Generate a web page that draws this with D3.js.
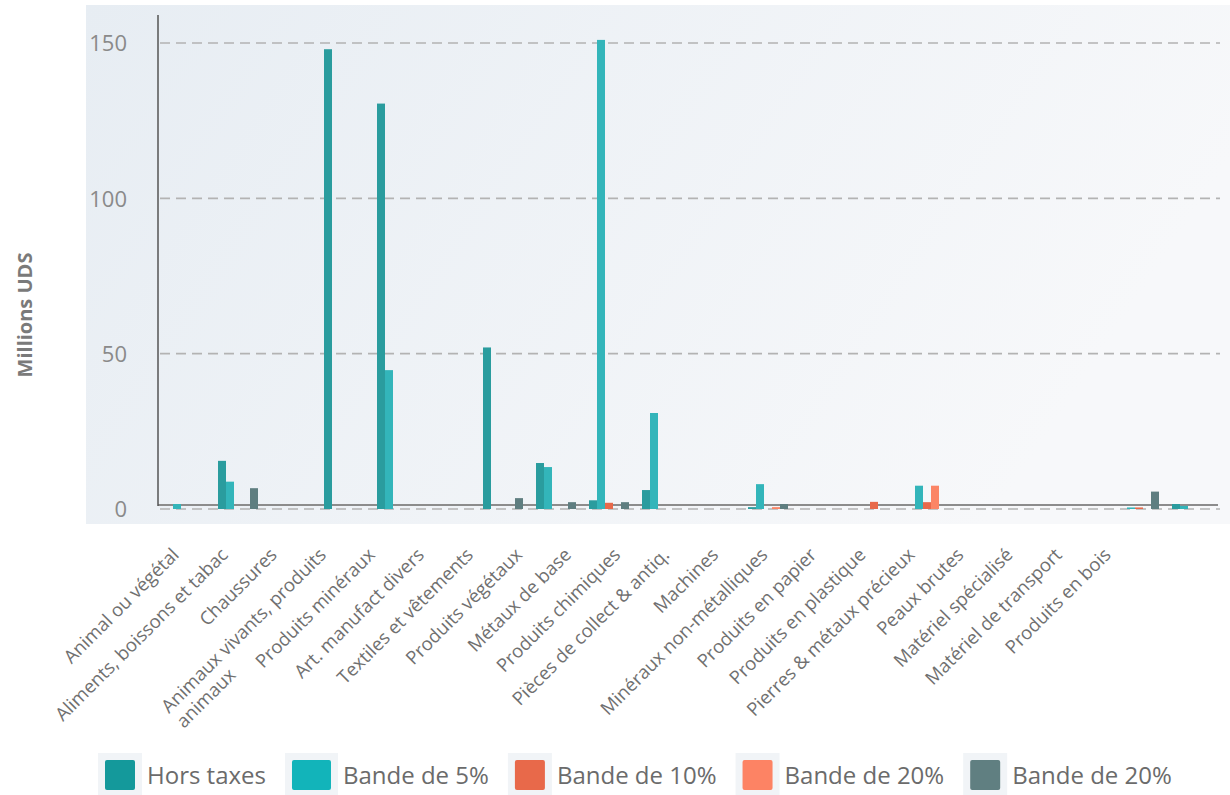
<!DOCTYPE html>
<html>
<head>
<meta charset="utf-8">
<script src="https://cdn.jsdelivr.net/npm/d3@7"></script>
<style>
  body { margin: 0; background: #fff; }
  svg { display: block; font-family: "Open Sans", sans-serif; }
</style>
</head>
<body>
<div id="chart"></div>
<script>
// categories and values (millions UDS)
var categories = [
    "Animal ou végétal",
    "Aliments, boissons et tabac",
    "Chaussures",
    "Animaux vivants, produits\nanimaux",
    "Produits minéraux",
    "Art. manufact divers",
    "Textiles et vêtements",
    "Produits végétaux",
    "Métaux de base",
    "Produits chimiques",
    "Pièces de collect & antiq.",
    "Machines",
    "Minéraux non-métalliques",
    "Produits en papier",
    "Produits en plastique",
    "Pierres & métaux précieux",
    "Peaux brutes",
    "Matériel spécialisé",
    "Matériel de transport",
    "Produits en bois"
];

var seriesNames = ["Hors taxes", "Bande de 5%", "Bande de 10%", "Bande de 20%", "Bande de 20%"];
var seriesColors = ["#2a9c9e", "#33b5ba", "#e8694a", "#fb8566", "#5f7e80"];
var legendColors = ["#14999b", "#12b4ba", "#e8694a", "#fd8364", "#607f81"];

var horsTaxes = [0, 15.5, 0, 148, 130.5, 0, 52, 14.8, 2.8, 6.1, 0, 0.6, 0, 0, 0, 0, 0, 0, 0, 1.6];
var bande5    = [1.6, 8.8, 0, 0, 44.7, 0, 0, 13.5, 151, 30.9, 0, 8.0, 0, 0, 7.5, 0, 0, 0, 0.5, 1.0];
var bande10   = [0, 0, 0, 0, 0, 0, 0, 0, 2.0, 0, 0, 0, 0, 2.3, 2.2, 0, 0, 0, 0.5, 0];
var bande20   = [0, 0, 0, 0, 0, 0, 0, 0, 0, 0, 0, 0.6, 0, 0, 7.5, 0, 0, 0, 0, 0];
var bande20b  = [0, 6.7, 0, 0, 0, 0, 3.5, 2.2, 2.2, 0, 0, 1.6, 0, 0, 0, 0, 0, 0, 5.6, 0];

var yTicks = [0, 50, 100, 150];

var allSeries = [horsTaxes, bande5, bande10, bande20, bande20b];

var width = 1230, height = 795;

var svg = d3.select("#chart").append("svg")
    .attr("width", width)
    .attr("height", height);

// plot background
var grad = svg.append("defs").append("linearGradient")
    .attr("id", "bg").attr("x1", "0").attr("x2", "1").attr("y1", "0").attr("y2", "0.3");
grad.append("stop").attr("offset", "0").attr("stop-color", "#e7edf3");
grad.append("stop").attr("offset", "1").attr("stop-color", "#f7f8fa");

svg.append("rect")
    .attr("x", 86).attr("y", 5)
    .attr("width", width - 86).attr("height", 519)
    .attr("fill", "url(#bg)");

var x0 = d3.scaleBand()
    .domain(d3.range(categories.length))
    .range([158.5, 1218.5]);

var x1 = d3.scaleBand()
    .domain(d3.range(seriesNames.length))
    .range([0, x0.bandwidth()])
    .paddingInner(0)
    .paddingOuter(0.8125);

var y = d3.scaleLinear()
    .domain([0, 150])
    .range([509, 43]);

// dashed grid lines
svg.append("g").selectAll("line")
    .data(yTicks)
    .enter().append("line")
    .attr("x1", 160).attr("x2", 1220)
    .attr("y1", function(d) { return y(d); })
    .attr("y2", function(d) { return y(d); })
    .attr("stroke", "#b3b3b3")
    .attr("stroke-width", 1.6)
    .attr("stroke-dasharray", "10,6");

// y tick labels
svg.append("g").selectAll("text")
    .data(yTicks)
    .enter().append("text")
    .attr("x", 127)
    .attr("y", function(d) { return y(d); })
    .attr("dy", "0.38em")
    .attr("text-anchor", "end")
    .attr("font-size", "22px")
    .attr("fill", "#8a8a8a")
    .text(function(d) { return d; });

// axis lines
svg.append("line")
    .attr("x1", 158).attr("x2", 1218)
    .attr("y1", 505).attr("y2", 505)
    .attr("stroke", "#8c8c8c").attr("stroke-width", 2);

svg.append("line")
    .attr("x1", 158).attr("x2", 158)
    .attr("y1", 15).attr("y2", 506)
    .attr("stroke", "#555").attr("stroke-width", 1.5);

// bars
var groups = svg.append("g").selectAll("g")
    .data(categories)
    .enter().append("g")
    .attr("transform", function(d, i) { return "translate(" + x0(i) + ",0)"; });

groups.selectAll("rect")
    .data(function(d, i) {
        return allSeries.map(function(s, k) { return {k: k, v: s[i]}; })
            .filter(function(e) { return e.v > 0; });
    })
    .enter().append("rect")
    .attr("x", function(d) { return x1(d.k); })
    .attr("width", x1.bandwidth())
    .attr("y", function(d) { return y(d.v); })
    .attr("height", function(d) { return y(0) - y(d.v); })
    .attr("fill", function(d) { return seriesColors[d.k]; });

// y title
svg.append("text")
    .attr("transform", "translate(32,315) rotate(-90)")
    .attr("text-anchor", "middle")
    .attr("font-size", "20px")
    .attr("font-weight", "bold")
    .attr("fill", "#7a7a7a")
    .text("Millions UDS");

// category labels, spread evenly under the chart
var labelX = d3.scalePoint()
    .domain(d3.range(categories.length))
    .range([180, 1112]);

var labels = svg.append("g").selectAll("g")
    .data(categories)
    .enter().append("g")
    .attr("transform", function(d, i) { return "translate(" + labelX(i) + ",556) rotate(-45)"; });

labels.each(function(d) {
    var g = d3.select(this);
    var lines = d.split("\n");
    var first = g.append("text")
        .attr("text-anchor", "end")
        .attr("font-size", "18.5px")
        .attr("fill", "#707070")
        .text(lines[0]);
    if (lines.length > 1) {
        var w = first.node().getComputedTextLength();
        g.append("text")
            .attr("x", -w)
            .attr("y", 21)
            .attr("font-size", "18.5px")
            .attr("fill", "#707070")
            .text(lines[1]);
    }
});

// legend
var lx = 105;
seriesNames.forEach(function(name, k) {
    var sw = (k == 1) ? 39 : 30;
    svg.append("rect")
        .attr("x", lx - 7).attr("y", 753)
        .attr("width", sw + 14).attr("height", 42)
        .attr("fill", "#f1f4f7");
    svg.append("rect")
        .attr("x", lx).attr("y", 760)
        .attr("width", sw).attr("height", 30)
        .attr("rx", 2)
        .attr("fill", legendColors[k]);
    var t = svg.append("text")
        .attr("x", lx + sw + 12)
        .attr("y", 784)
        .attr("font-size", "24px")
        .attr("fill", "#6b6b6b")
        .text(name);
    lx = lx + sw + 12 + t.node().getComputedTextLength() + 26;
});
</script>
</body>
</html>
